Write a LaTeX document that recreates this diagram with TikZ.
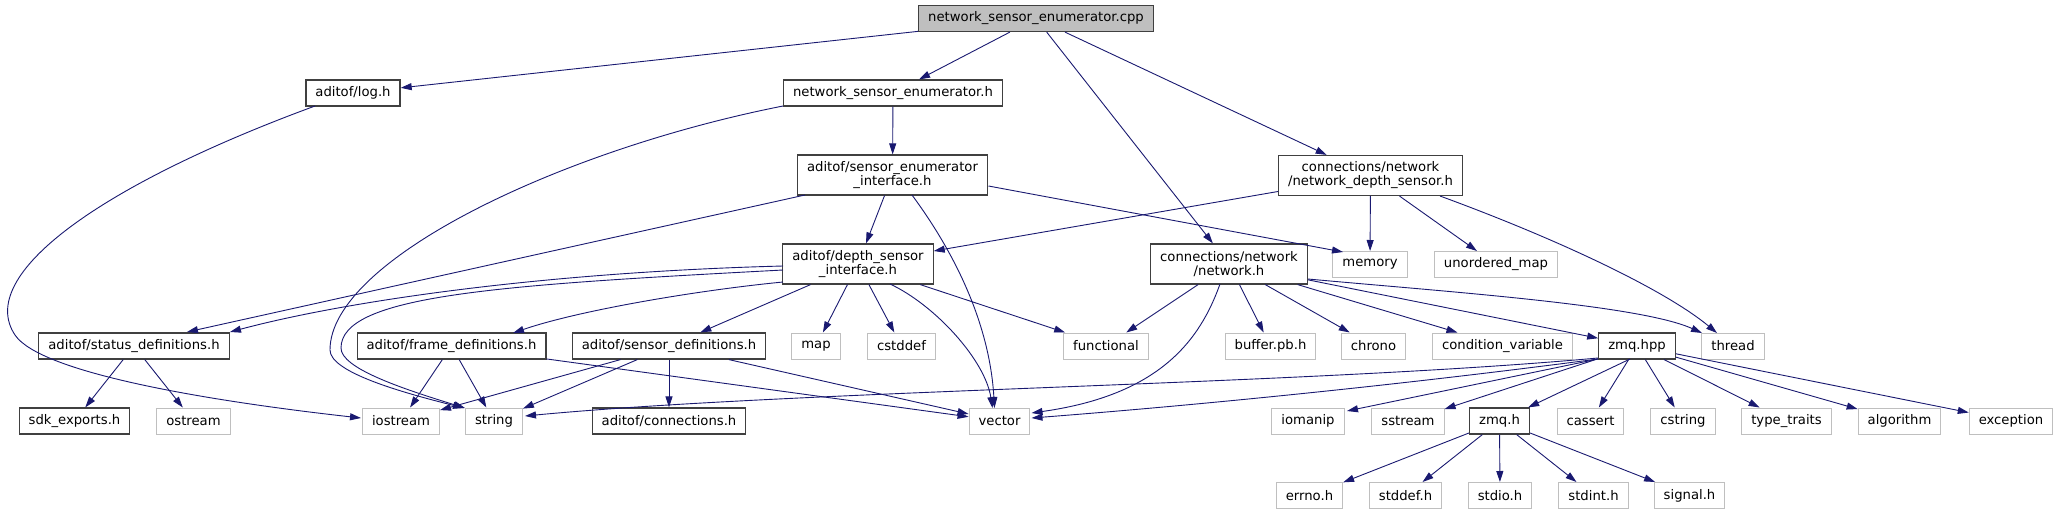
\documentclass[tikz,border=0pt]{standalone}
\usepackage{fontspec}
\setmainfont{DejaVu Sans}
\usetikzlibrary{arrows.meta,calc}
\definecolor{navyedge}{HTML}{191970}
\definecolor{grayline}{HTML}{BFBFBF}
\definecolor{rootfill}{HTML}{BFBFBF}
\definecolor{hdrline}{HTML}{404040}
\begin{document}
\begin{tikzpicture}[x=1pt,y=-1pt,
  nbase/.style={rectangle, draw, fill=white, line width=1pt, inner xsep=9.5pt, inner ysep=0pt, minimum height=26pt, font=\fontsize{13.2pt}{14pt}\selectfont},
  hdr/.style={nbase, draw=hdrline, line width=1.2pt},
  sys/.style={nbase, draw=grayline},
  rootn/.style={hdr, fill=rootfill},
  twoline/.style={align=center, minimum height=40pt},
  dep/.style={draw=navyedge, line width=0.9pt, -{Triangle[length=11pt,width=7pt]}}]
\useasboundingbox (0,0) rectangle (2059,515);
% row 0
\node[rootn] (cpp) at (1036,18.5) {network\_sensor\_enumerator.cpp};
% row 1
\node[hdr] (log) at (353,93) {aditof/log.h};
\node[hdr] (nseh) at (893,93) {network\_sensor\_enumerator.h};
% row 2
\node[hdr,twoline] (sei) at (892.5,175) {aditof/sensor\_enumerator\\\_interface.h};
\node[hdr,twoline] (nds) at (1370.5,175.5) {connections/network\\/network\_depth\_sensor.h};
% row 3
\node[hdr,twoline] (dsi) at (858,264) {aditof/depth\_sensor\\\_interface.h};
\node[hdr,twoline] (net) at (1229,264) {connections/network\\/network.h};
\node[sys] (memory) at (1370,264.5) {memory};
\node[sys] (umap) at (1496,264.5) {unordered\_map};
% row 4
\node[hdr] (stat) at (134,346) {aditof/status\_definitions.h};
\node[hdr] (frame) at (451.5,346) {aditof/frame\_definitions.h};
\node[hdr] (sdef) at (669,346) {aditof/sensor\_definitions.h};
\node[sys] (map) at (816,346) {map};
\node[sys] (cstddef) at (901.5,346) {cstddef};
\node[sys] (functional) at (1106,346) {functional};
\node[sys] (buffer) at (1270.5,346) {buffer.pb.h};
\node[sys] (chrono) at (1373.5,346) {chrono};
\node[sys] (condvar) at (1502.5,346) {condition\_variable};
\node[hdr] (zmqhpp) at (1637,346) {zmq.hpp};
\node[sys] (thread) at (1733,346) {thread};
% row 5
\node[hdr] (sdk) at (74.5,421) {sdk\_exports.h};
\node[sys] (ostream) at (193.5,421) {ostream};
\node[sys] (iostream) at (401,421) {iostream};
\node[sys] (string) at (494,421) {string};
\node[hdr] (conn) at (669,421) {aditof/connections.h};
\node[sys] (vector) at (999.5,421) {vector};
\node[sys] (iomanip) at (1308,421) {iomanip};
\node[sys] (sstream) at (1408,421) {sstream};
\node[hdr] (zmqh) at (1499.5,421) {zmq.h};
\node[sys] (cassert) at (1590.5,421) {cassert};
\node[sys] (cstring) at (1683,421) {cstring};
\node[sys] (typetraits) at (1786.5,421) {type\_traits};
\node[sys] (algorithm) at (1899.5,421) {algorithm};
\node[sys] (exception) at (2011,421) {exception};
% row 6
\node[sys] (errno) at (1309.5,495.5) {errno.h};
\node[sys] (stddef) at (1405.5,495.5) {stddef.h};
\node[sys] (stdio) at (1500,495.5) {stdio.h};
\node[sys] (stdint) at (1593.5,495.5) {stdint.h};
\node[sys] (signal) at (1689.5,495.5) {signal.h};

% edges from cpp
\draw[dep] (cpp) -- (log);
\draw[dep] (cpp) -- (nseh);
\draw[dep] (cpp) -- (net);
\draw[dep] (cpp) -- (nds);
% log
\draw[dep] ($(log)+(-38,13)$) .. controls (100,185) and (-25,275) .. (15,335)
  .. controls (40,372) and (200,400) .. ($(iostream)+(-40,-3)$);
% nseh
\draw[dep] (nseh) -- (sei);
\draw[dep] ($(nseh)+(-110,13)$) .. controls (560,150) and (330,260) .. (330,350)
  .. controls (330,372) and (400,392) .. ($(string)+(-30,-13)$);
% sei
\draw[dep] (sei) -- (dsi);
\draw[dep] ($(sei)+(-87.5,20)$) -- ($(stat)+(53,-14)$);
\draw[dep] ($(sei)+(19.5,20)$) .. controls (960,260) and (990,330) .. ($(vector)+(-5,-13)$);
\draw[dep] ($(sei)+(96,11)$) -- ($(memory)+(-27,-12.5)$);
% nds
\draw[dep] (nds) -- (dsi);
\draw[dep] (nds) -- (memory);
\draw[dep] (nds) -- (umap);
\draw[dep] ($(nds)+(69.5,20.5)$) .. controls (1560,240) and (1665,290) .. ($(thread)+(-16,-13)$);
% dsi
\draw[dep] ($(dsi)+(-75,2)$) .. controls (550,272) and (350,300) .. ($(stat)+(96,-14)$);
\draw[dep] ($(dsi)+(-75,6)$) .. controls (500,285) and (341,295) .. (341,348)
  .. controls (341,368) and (400,388) .. ($(string)+(-29,-13)$);
\draw[dep] ($(dsi)+(-75,18)$) .. controls (700,290) and (580,310) .. ($(frame)+(61.5,-13)$);
\draw[dep] (dsi) -- (sdef);
\draw[dep] (dsi) -- (map);
\draw[dep] (dsi) -- (cstddef);
\draw[dep] (dsi) -- (functional);
\draw[dep] ($(dsi)+(32,20)$) .. controls (935,305) and (985,360) .. ($(vector)+(-7,-13)$);
% net
\draw[dep] (net) -- (functional);
\draw[dep] ($(net)+(-9,20)$) .. controls (1200,340) and (1160,395) .. ($(vector)+(32,-8)$);
\draw[dep] (net) -- (buffer);
\draw[dep] (net) -- (chrono);
\draw[dep] (net) -- (condvar);
\draw[dep] (net) -- (zmqhpp);
\draw[dep] ($(net)+(79,15)$) .. controls (1450,292) and (1640,305) .. ($(thread)+(-31,-13)$);
% status
\draw[dep] (stat) -- (sdk);
\draw[dep] (stat) -- (ostream);
% frame
\draw[dep] (frame) -- (iostream);
\draw[dep] (frame) -- (string);
\draw[dep] (frame) -- (vector);
% sensor defs
\draw[dep] (sdef) -- (iostream);
\draw[dep] (sdef) -- (string);
\draw[dep] (sdef) -- (conn);
\draw[dep] (sdef) -- (vector);
% zmq.hpp
\draw[dep] ($(zmqhpp)+(-39,12)$) .. controls (1300,385) and (800,390) .. ($(string)+(31,-5)$);
\draw[dep] ($(zmqhpp)+(-39,13)$) .. controls (1400,385) and (1200,405) .. ($(vector)+(32,-3)$);
\draw[dep] ($(zmqhpp)+(-39,13)$) -- ($(iomanip)+(39,-10)$);
\draw[dep] (zmqhpp) -- (sstream);
\draw[dep] ($(zmqhpp)+(-7,13)$) -- (zmqh);
\draw[dep] (zmqhpp) -- (cassert);
\draw[dep] (zmqhpp) -- (cstring);
\draw[dep] (zmqhpp) -- (typetraits);
\draw[dep] (zmqhpp) -- (algorithm);
\draw[dep] (zmqhpp) -- (exception);
% zmq.h
\draw[dep] (zmqh) -- (errno);
\draw[dep] (zmqh) -- (stddef);
\draw[dep] (zmqh) -- (stdio);
\draw[dep] (zmqh) -- (stdint);
\draw[dep] (zmqh) -- (signal);
\end{tikzpicture}
\end{document}
